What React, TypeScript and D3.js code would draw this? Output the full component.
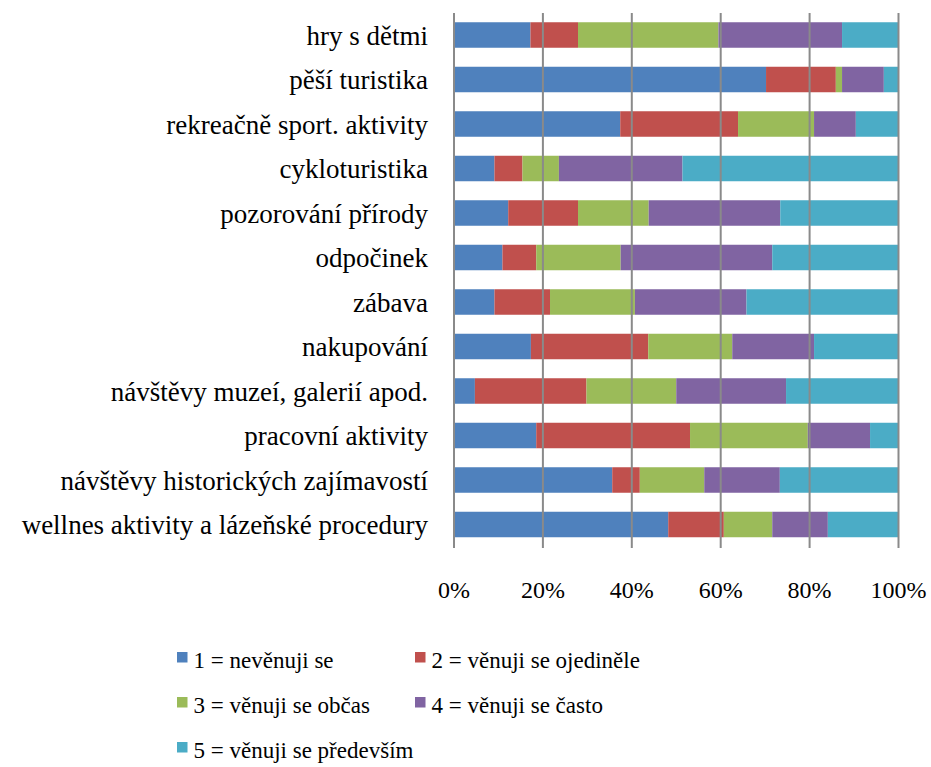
import React from "react";
import * as d3 from "d3";

// Activity categories, top to bottom
const categories = [
  "hry s dětmi",
  "pěší turistika",
  "rekreačně sport. aktivity",
  "cykloturistika",
  "pozorování přírody",
  "odpočinek",
  "zábava",
  "nakupování",
  "návštěvy muzeí, galerií apod.",
  "pracovní aktivity",
  "návštěvy historických zajímavostí",
  "wellnes aktivity a lázeňské procedury",
];

// Share of respondents (%) for each answer, in category order
const level1 = [17.2, 70.2, 37.4, 9.1, 12.2, 10.9, 9.1, 17.3, 4.7, 18.5, 35.6, 48.2];
const level2 = [10.7, 15.7, 26.5, 6.3, 15.7, 7.6, 12.5, 26.4, 25.1, 34.6, 6.2, 12.5];
const level3 = [31.6, 1.4, 17.1, 8.2, 15.9, 19.0, 19.1, 18.9, 20.2, 26.5, 14.5, 10.9];
const level4 = [27.8, 9.4, 9.4, 27.8, 29.6, 34.1, 25.1, 18.4, 24.7, 14.0, 17.0, 12.5];
const level5 = [12.7, 3.3, 9.6, 48.6, 26.6, 28.4, 34.2, 19.0, 25.3, 6.4, 26.7, 15.9];

const seriesNames = [
  "1 = nevěnuji se",
  "2 = věnuji se ojediněle",
  "3 = věnuji se občas",
  "4 = věnuji se často",
  "5 = věnuji se především",
];
const seriesColors = ["#4F81BD", "#C0504D", "#9BBB59", "#8064A2", "#4BACC6"];
const tickValues = [0, 20, 40, 60, 80, 100];

const W = 931;
const H = 767;
const SERIF = `"Liberation Serif", Tinos, FreeSerif, "DejaVu Serif"`;

export default function App() {
  const keys = ["l1", "l2", "l3", "l4", "l5"];
  const levels = [level1, level2, level3, level4, level5];
  const rows = categories.map((c, i) => {
    const r: any = { cat: c };
    keys.forEach((k, j) => (r[k] = levels[j][i]));
    return r;
  });
  const stacked = d3.stack<any>().keys(keys)(rows);

  const x = d3.scaleLinear().domain([0, 100]).range([454, 898.5]);
  const y = d3
    .scaleBand<string>()
    .domain(categories)
    .range([12.75, 546.75])
    .paddingInner(0.427)
    .paddingOuter(0.2135);

  const legendPos = [
    [177, 652],
    [415, 652],
    [177, 697],
    [415, 697],
    [177, 742],
  ];

  return (
    <svg
      width={W}
      height={H}
      className="chart"
      style={{ position: "absolute", left: 0, top: 0, fontFamily: SERIF }}
    >
      <style>{`.chart text { font-family: ${SERIF}; fill: #000; }`}</style>
      {/* stacked bars */}
      {stacked.map((s, si) => (
        <g key={s.key} fill={seriesColors[si]}>
          {s.map((d, i) => (
            <rect
              key={i}
              x={x(d[0])}
              y={y(categories[i])}
              width={x(d[1]) - x(d[0])}
              height={y.bandwidth()}
            />
          ))}
        </g>
      ))}
      {/* vertical gridlines and category axis */}
      {tickValues.map((t) => (
        <line
          key={t}
          x1={x(t)}
          x2={x(t)}
          y1={13}
          y2={548}
          stroke="#8a8a8a"
          strokeWidth={2}
        />
      ))}
      {/* tick labels */}
      {tickValues.map((t) => (
        <text key={t} x={x(t)} y={598} textAnchor="middle" fontSize={24}>
          {t + "%"}
        </text>
      ))}
      {/* category labels */}
      {categories.map((c) => (
        <text
          key={c}
          x={428}
          y={(y(c) as number) + y.bandwidth() / 2 + 9.5}
          textAnchor="end"
          fontSize={27}
        >
          {c}
        </text>
      ))}
      {/* legend */}
      {seriesNames.map((n, i) => (
        <g key={n}>
          <rect
            x={legendPos[i][0]}
            y={legendPos[i][1]}
            width={10.5}
            height={10.5}
            fill={seriesColors[i]}
          />
          <text x={legendPos[i][0] + 16.5} y={legendPos[i][1] + 16} fontSize={23}>
            {n}
          </text>
        </g>
      ))}
    </svg>
  );
}
